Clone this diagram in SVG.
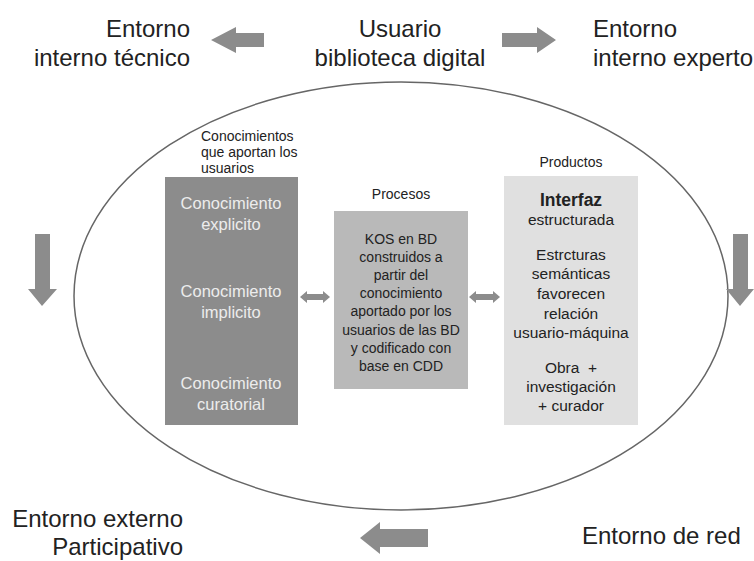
<svg xmlns="http://www.w3.org/2000/svg" width="754" height="561" viewBox="0 0 754 561">
<style>
.big{font-family:"Liberation Sans",Arial,sans-serif;font-size:24px;fill:#222}
.sm{font-family:"Liberation Sans",Arial,sans-serif;font-size:14px;fill:#222}
.wt{font-family:"Liberation Sans",Arial,sans-serif;font-size:16.5px;fill:#ececec;text-anchor:middle}
.mt{font-family:"Liberation Sans",Arial,sans-serif;font-size:14px;fill:#222;text-anchor:middle}
.rt{font-family:"Liberation Sans",Arial,sans-serif;font-size:15.5px;fill:#222;text-anchor:middle}
.arr{fill:#8c8c8c}
</style>
<rect width="754" height="561" fill="#fff"/>
<g id="ring"><ellipse cx="401" cy="296" rx="327" ry="214" fill="none" stroke="#666" stroke-width="1.5"/></g>
<g id="usuario"><text class="big" text-anchor="middle" x="400" y="37">Usuario</text><text class="big" text-anchor="middle" x="400" y="66">biblioteca digital</text></g>
<g id="tecnico"><text class="big" text-anchor="end" x="190" y="37">Entorno</text><text class="big" text-anchor="end" x="190" y="66">interno técnico</text></g>
<g id="experto"><text class="big" x="593" y="37">Entorno</text><text class="big" x="593" y="66">interno experto</text></g>
<g id="externo"><text class="big" text-anchor="end" x="183" y="527">Entorno externo</text><text class="big" text-anchor="end" x="183" y="555">Participativo</text></g>
<g id="red"><text class="big" x="582" y="544">Entorno de red</text></g>
<g id="conocimientos">
<text class="sm" x="201" y="141">Conocimientos</text><text class="sm" x="201" y="157">que aportan los</text><text class="sm" x="201" y="173">usuarios</text>
<rect x="165" y="177" width="133" height="248" fill="#8c8c8c"/>
<text class="wt" x="231" y="209">Conocimiento</text><text class="wt" x="231" y="230">explicito</text>
<text class="wt" x="231" y="297">Conocimiento</text><text class="wt" x="231" y="318">implicito</text>
<text class="wt" x="231" y="389">Conocimiento</text><text class="wt" x="231" y="410">curatorial</text>
</g>
<g id="procesos">
<text class="sm" text-anchor="middle" x="401" y="199">Procesos</text>
<rect x="334" y="211" width="134" height="178" fill="#b9b9b9"/>
<text class="mt" x="401" y="244">KOS en BD</text><text class="mt" x="401" y="262">construidos a</text><text class="mt" x="401" y="280">partir del</text><text class="mt" x="401" y="298">conocimiento</text><text class="mt" x="401" y="316">aportado por los</text><text class="mt" x="401" y="335">usuarios de las BD</text><text class="mt" x="401" y="353">y codificado con</text><text class="mt" x="401" y="371">base en CDD</text>
</g>
<g id="productos">
<text class="sm" text-anchor="middle" x="571" y="167">Productos</text>
<rect x="504" y="176" width="134" height="249" fill="#e0e0e0"/>
<text class="rt" x="571" y="206" style="font-size:17.5px;font-weight:bold">Interfaz</text><text class="rt" x="571" y="225">estructurada</text>
<text class="rt" x="571" y="260">Estrcturas</text><text class="rt" x="571" y="279">semánticas</text><text class="rt" x="571" y="299">favorecen</text><text class="rt" x="571" y="319">relación</text><text class="rt" x="571" y="338">usuario-máquina</text>
<text class="rt" x="571" y="373" xml:space="preserve">Obra  +</text><text class="rt" x="571" y="392">investigación</text><text class="rt" x="571" y="411">+ curador</text>
</g>
<g id="connectors">
<polygon class="arr" points="211,40 236,27 236,33 264,33 264,47 236,47 236,53"/>
<polygon class="arr" points="556,40 537,27 537,33 502,33 502,47 537,47 537,53"/>
<polygon class="arr" points="42,306 28,289 35,289 35,234 50,234 50,289 57,289"/>
<polygon class="arr" points="740,306 726,289 733,289 733,234 748,234 748,289 754,289"/>
<polygon class="arr" points="360,538 380,522 380,529 428,529 428,547 380,547 380,554"/>
<polygon class="arr" points="300,297 307,291 307,294 323,294 323,300 307,300 307,303"/>
<polygon class="arr" points="330,297 323,291 323,303"/>
<polygon class="arr" points="469,297 476,291 476,294 493,294 493,300 476,300 476,303"/>
<polygon class="arr" points="500,297 493,291 493,303"/>
</g>
</svg>
